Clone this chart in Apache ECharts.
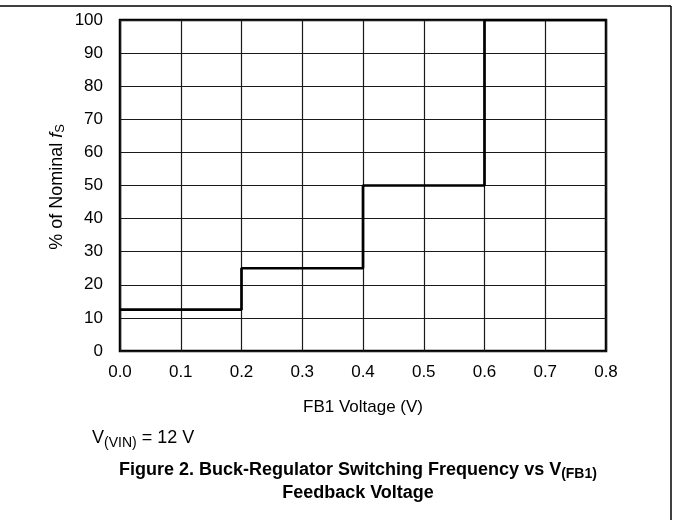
<!DOCTYPE html>
<html><head><meta charset="utf-8">
<script src="https://cdn.jsdelivr.net/npm/echarts@6/dist/echarts.min.js"></script>
<style>html,body{margin:0;padding:0;background:#fff}#c{width:673px;height:520px}</style>
</head><body><div id="c"></div>
<script>
const xValues = [0.0, 0.2, 0.2, 0.4, 0.4, 0.6, 0.6, 0.8];
const yValues = [12.5, 12.5, 25, 25, 50, 50, 100, 100];
const xTicks = ['0.0','0.1','0.2','0.3','0.4','0.5','0.6','0.7','0.8'];
const yTicks = [0,10,20,30,40,50,60,70,80,90,100];

const chart = echarts.init(document.getElementById('c'), null, {renderer:'canvas'});
const F = 'Liberation Sans, Arial, sans-serif';
chart.setOption({
  animation:false,
  grid:{left:120, right:67, top:20, bottom:169, show:true, borderColor:'#000', borderWidth:2.5},
  xAxis:{type:'value', min:0, max:0.8, interval:0.1,
    axisLine:{show:false}, axisTick:{show:false},
    axisLabel:{color:'#000', fontFamily:F, fontSize:17, margin:13, formatter:v=>xTicks[Math.round(v*10)]},
    splitLine:{show:true, lineStyle:{color:'#1a1a1a', width:1.2}}},
  yAxis:{type:'value', min:0, max:100, interval:10,
    axisLine:{show:false}, axisTick:{show:false},
    axisLabel:{color:'#000', fontFamily:F, fontSize:17, margin:17},
    splitLine:{show:true, lineStyle:{color:'#1a1a1a', width:1.2}}},
  series:[{type:'line', data:xValues.map((x,i)=>[x,yValues[i]]), symbol:'none',
    lineStyle:{color:'#000', width:2.7}}],
  graphic:[
    {type:'line', shape:{x1:0,y1:6,x2:671,y2:6}, style:{stroke:'#000', lineWidth:1.5}},
    {type:'line', shape:{x1:671,y1:6,x2:671,y2:520}, style:{stroke:'#000', lineWidth:1.5}},
    {type:'text', x:363, y:407, style:{text:'FB1 Voltage (V)', font:'17px '+F, fill:'#000', textAlign:'center', textVerticalAlign:'middle'}},
    {type:'text', x:57, y:187, rotation:Math.PI/2,
      style:{text:'{n|% of Nominal }{f|f}{s|S}', textAlign:'center', textVerticalAlign:'middle',
        rich:{n:{font:'18px '+F, fill:'#000'}, f:{font:'italic 18px '+F, fill:'#000'}, s:{font:'13px '+F, fill:'#000', padding:[7,0,0,0]}}}},
    {type:'text', x:92, y:438, style:{text:'{a|V}{b|(VIN)}{a| = 12 V}', textVerticalAlign:'middle',
      rich:{a:{font:'18px '+F, fill:'#000'}, b:{font:'14px '+F, fill:'#000', padding:[10,0,0,0]}}}},
    {type:'text', x:358, y:470, style:{text:'{a|Figure 2. Buck-Regulator Switching Frequency vs V}{b|(FB1)}', textAlign:'center', textVerticalAlign:'middle',
      rich:{a:{font:'bold 18px '+F, fill:'#000'}, b:{font:'bold 14px '+F, fill:'#000', padding:[9,0,0,0]}}}},
    {type:'text', x:358, y:493, style:{text:'Feedback Voltage', font:'bold 18px '+F, fill:'#000', textAlign:'center', textVerticalAlign:'middle'}}
  ]
});
</script></body></html>
